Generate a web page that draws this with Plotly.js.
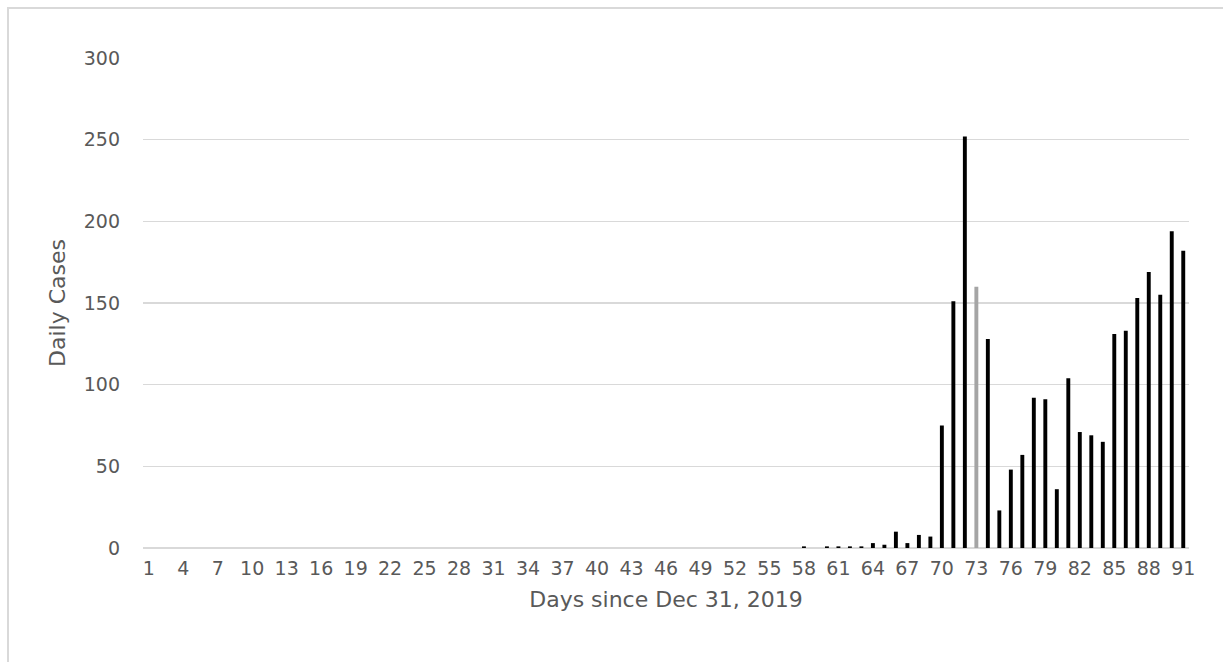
<!DOCTYPE html>
<html>
<head>
<meta charset="utf-8">
<script src="https://cdn.plot.ly/plotly-3.0.1.min.js"></script>
<style>
  html, body { margin: 0; padding: 0; background: #ffffff; }
  #wrap { position: relative; width: 1223px; height: 662px; overflow: hidden; }
  #frame { position: absolute; left: 7px; top: 7px; right: -10px; bottom: -10px;
           border-left: 2px solid #d9d9d9; border-top: 2px solid #d9d9d9; pointer-events: none; }
  #chart { position: absolute; left: 0; top: 0; width: 1223px; height: 662px; }
</style>
</head>
<body>
<div id="wrap">
  <div id="chart"></div>
  <div id="frame"></div>
</div>
<script>
// Days since Dec 31, 2019
const days = [];
for (let d = 1; d <= 91; d++) days.push(d);

// Daily cases (days 1..91)
const dailyCases = [
  0,0,0,0,0,0,0,0,0,0,          // 1-10
  0,0,0,0,0,0,0,0,0,0,          // 11-20
  0,0,0,0,0,0,0,0,0,0,          // 21-30
  0,0,0,0,0,0,0,0,0,0,          // 31-40
  0,0,0,0,0,0,0,0,0,0,          // 41-50
  0,0,0,0,0,0,0,1,0,1,          // 51-60
  1,1,1,3,2,10,3,8,7,75,        // 61-70
  151,252,160,128,23,48,57,92,91,36, // 71-80
  104,71,69,65,131,133,153,169,155,194, // 81-90
  182                           // 91
];

const highlightDay = 73;
const barColors = days.map(d => d === highlightDay ? '#a5a5a5' : '#000000');

const yTicks = [0, 50, 100, 150, 200, 250, 300];

const font = "'DejaVu Sans', sans-serif";
const textColor = '#595959';

Plotly.newPlot('chart', [{
  type: 'bar',
  x: days,
  y: dailyCases,
  width: 0.34,
  marker: { color: barColors, line: { width: 0 } },
  hoverinfo: 'x+y'
}], {
  width: 1223,
  height: 662,
  margin: { l: 143, r: 34, t: 58, b: 114 },
  paper_bgcolor: '#ffffff',
  plot_bgcolor: '#ffffff',
  showlegend: false,
  font: { family: font, color: textColor, size: 19 },
  xaxis: {
    type: 'linear',
    range: [0.5, 91.5],
    tick0: 1,
    dtick: 3,
    showgrid: false,
    zeroline: false,
    showline: false,
    ticks: '',
    ticklabelstandoff: 7,
    tickfont: { family: font, size: 19, color: textColor },
    title: { text: 'Days since Dec 31, 2019', font: { family: font, size: 22, color: textColor }, standoff: 13 }
  },
  yaxis: {
    range: [0, 300],
    tickvals: yTicks,
    showgrid: true,
    gridcolor: '#d9d9d9',
    gridwidth: 1.3,
    zeroline: true,
    zerolinecolor: '#d9d9d9',
    zerolinewidth: 1.3,
    showline: false,
    ticks: '',
    ticklabelstandoff: 22,
    tickfont: { family: font, size: 19, color: textColor },
    title: { text: 'Daily Cases', font: { family: font, size: 22, color: textColor }, standoff: 12 }
  },
  bargap: 0.66
}, { displayModeBar: false, staticPlot: true });
</script>
</body>
</html>
